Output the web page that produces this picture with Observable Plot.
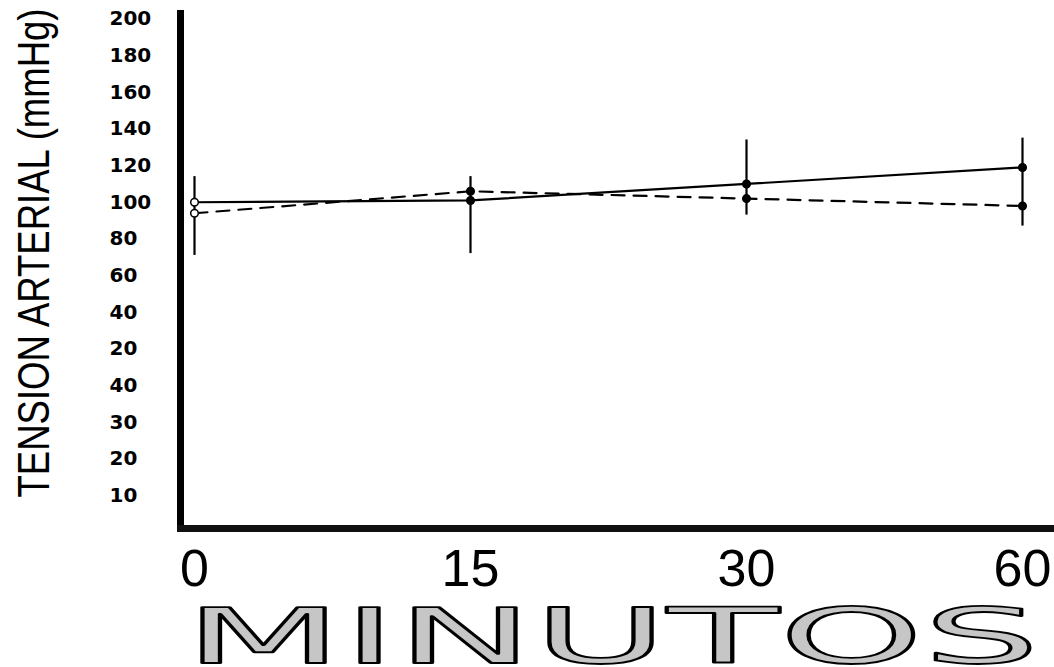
<!DOCTYPE html>
<html>
<head>
<meta charset="utf-8">
<script src="https://cdn.jsdelivr.net/npm/d3@7"></script>
<script src="https://cdn.jsdelivr.net/npm/@observablehq/plot@0.6"></script>
<style>
  html, body { margin: 0; padding: 0; background: #fff; }
</style>
</head>
<body>
<div id="chart"></div>
<script>
// ---- data ----
const minutes = ["0", "15", "30", "60"];
const solidValues = [100, 101, 110, 119];
const dashedValues = [94, 106, 102, 98];
const errLow = [71, 72, 93, 87];
const errHigh = [114, 114, 134, 135];
const yTickValues = [200, 180, 160, 140, 120, 100, 80, 60, 40, 20, 0, -20, -40, -60];
const yTickLabels = ["200", "180", "160", "140", "120", "100", "80", "60", "40", "20", "40", "30", "20", "10"];
const yTitle = "TENSION ARTERIAL (mmHg)";
const xTitle = "MINUTOS";

// ---- tables built from the arrays ----
const solid = minutes.map((m, i) => ({x: m, y: solidValues[i]}));
const dashed = minutes.map((m, i) => ({x: m, y: dashedValues[i]}));
const bars = minutes.map((m, i) => ({x: m, lo: errLow[i], hi: errHigh[i]}));
const labelMap = new Map(yTickValues.map((v, i) => [v, yTickLabels[i]]));

const chart = Plot.plot({
  width: 1054,
  height: 667,
  marginTop: 13,
  marginBottom: 139,
  marginLeft: 180,
  marginRight: 0,
  insetLeft: 13,
  insetRight: 31,
  x: {type: "point", domain: minutes, padding: 0},
  y: {domain: [-78, 203]},
  style: {background: "white", color: "black", overflow: "visible"},
  marks: [
    Plot.axisY({
      ticks: yTickValues,
      tickFormat: d => labelMap.get(d),
      tickSize: 0,
      textAnchor: "start",
      dx: -62,
      fontSize: 20,
      fontWeight: "bold",
      fontFamily: "DejaVu Sans",
      label: null
    }),
    Plot.axisX({
      tickSize: 0,
      tickPadding: 21,
      fontSize: 52,
      fontFamily: "Liberation Sans",
      label: null
    }),
    Plot.ruleX(bars, {x: "x", y1: "lo", y2: "hi", stroke: "black", strokeWidth: 2.2}),
    Plot.line(solid, {x: "x", y: "y", stroke: "black", strokeWidth: 2.2}),
    Plot.line(dashed, {x: "x", y: "y", stroke: "black", strokeWidth: 2.2, strokeDasharray: "13,9"}),
    Plot.dot(solid, {x: "x", y: "y", r: 3.8, stroke: "black", strokeWidth: 1.5, fill: d => d.x === "0" ? "white" : "black"}),
    Plot.dot(dashed, {x: "x", y: "y", r: 3.8, stroke: "black", strokeWidth: 1.5, fill: d => d.x === "0" ? "white" : "black"}),
    Plot.frame({anchor: "left", stroke: "black", strokeWidth: 7}),
    Plot.frame({anchor: "bottom", stroke: "#111", strokeWidth: 7}),
    Plot.text([yTitle], {
      frameAnchor: "bottom-left",
      textAnchor: "start",
      lineAnchor: "middle",
      rotate: -90,
      dx: -146,
      dy: -31,
      fontSize: 44,
      fontFamily: "Liberation Sans",
      fill: "black"
    }),
    Plot.text([xTitle], {
      frameAnchor: "bottom-left",
      textAnchor: "start",
      lineAnchor: "bottom",
      dx: 4,
      dy: 134,
      fontSize: 76,
      fontFamily: "DejaVu Sans",
      fill: "#bbb",
      stroke: "black",
      strokeWidth: 1.8,
      paintOrder: "normal"
    })
  ]
});

// stipple pattern for the big outlined title
const svg = d3.select(chart);
const defs = svg.insert("defs", ":first-child");
const pat = defs.append("pattern")
  .attr("id", "stip").attr("patternUnits", "userSpaceOnUse")
  .attr("width", 2).attr("height", 2);
pat.append("rect").attr("width", 2).attr("height", 2).attr("fill", "#e6e6e6");
pat.append("rect").attr("width", 1).attr("height", 1).attr("fill", "#666");

svg.selectAll("text").filter(function() { return this.textContent === xTitle; })
  .attr("fill", "url(#stip)")
  .attr("textLength", 855)
  .attr("lengthAdjust", "spacingAndGlyphs");
svg.selectAll("text").filter(function() { return this.textContent === yTitle; })
  .attr("textLength", 489)
  .attr("lengthAdjust", "spacingAndGlyphs");

document.getElementById("chart").appendChild(chart);
</script>
</body>
</html>
